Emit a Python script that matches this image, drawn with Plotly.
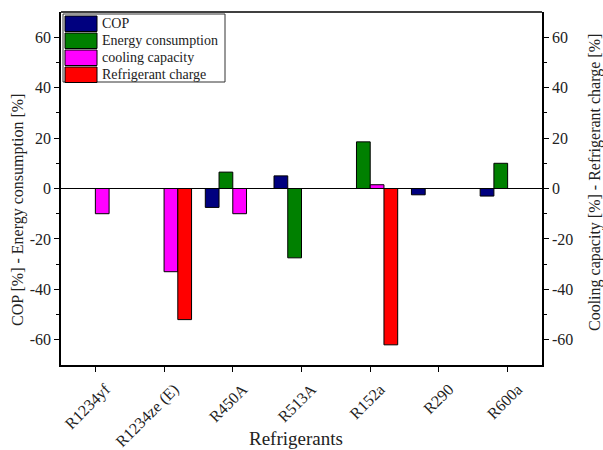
import plotly.graph_objects as go

refrigerants = ["R1234yf", "R1234ze (E)", "R450A", "R513A", "R152a", "R290", "R600a"]
series_names = ["COP", "Energy consumption", "cooling capacity", "Refrigerant charge"]
cop = [None, None, -7.5, 5.0, None, -2.5, -3.0]
energy_consumption = [None, None, 6.5, -27.5, 18.5, None, 10.0]
cooling_capacity = [-10.0, -33.0, -10.0, None, 1.5, None, None]
refrigerant_charge = [None, -52.0, None, None, -62.0, None, None]
colors = ["#00007F", "#008000", "#FF00FF", "#FF0000"]
tick_vals = [-60, -40, -20, 0, 20, 40, 60]
tick_text = [str(v) for v in tick_vals]

W, H = 603, 450
ML, MR, MT, MB = 61, 61, 12, 85
PW, PH = W - ML - MR, H - MT - MB
FONT = "Liberation Serif, Times New Roman, serif"
TXT = "#222"

def px_x(x):
    return (x - ML) / PW

def px_y(y):
    return 1 - (y - MT) / PH

fig = go.Figure()
for name, vals, col in zip(series_names,
                           [cop, energy_consumption, cooling_capacity, refrigerant_charge],
                           colors):
    fig.add_trace(go.Bar(x=refrigerants, y=vals, name=name, marker_color=col,
                         marker_line=dict(color="black", width=1), showlegend=False))

# invisible trace so the right-hand axis is drawn
fig.add_trace(go.Scatter(x=[refrigerants[0]], y=[0], yaxis="y2", mode="markers",
                         marker=dict(opacity=0), showlegend=False, hoverinfo="skip"))

axis_common = dict(range=[-70, 70], tickvals=tick_vals, ticktext=tick_text,
                   ticks="outside", ticklen=5, tickwidth=1, tickcolor="black",
                   showline=True, linecolor="black", linewidth=1.5, showgrid=False,
                   zeroline=False, automargin=False,
                   tickfont=dict(family=FONT, size=16, color=TXT),
                   minor=dict(tickvals=[-50, -30, -10, 10, 30, 50], ticks="outside",
                              ticklen=3, tickcolor="black"))

fig.update_layout(
    width=W, height=H,
    margin=dict(l=ML, r=MR, t=MT, b=MB),
    paper_bgcolor="white", plot_bgcolor="white",
    barmode="group", bargap=0.2, bargroupgap=0,
    font=dict(family=FONT, color=TXT),
    xaxis=dict(range=[-0.5, 6.5], tickangle=-45, ticks="outside", ticklen=5,
               tickcolor="black", showline=True, linecolor="black", linewidth=1.5,
               showgrid=False, automargin=False, ticklabelshift=10, ticklabelstandoff=2,
               tickfont=dict(family=FONT, size=16, color=TXT),
               minor=dict(ticks="outside", ticklen=4, tickcolor="black", dtick=1,
                          tick0=0.5)),
    yaxis=dict(**axis_common),
    yaxis2=dict(**axis_common, overlaying="y", side="right"),
)

# axis titles
fig.add_annotation(xref="paper", yref="paper", x=px_x(296), y=px_y(438),
                   xanchor="center", yanchor="middle",
                   text="Refrigerants", showarrow=False,
                   font=dict(family=FONT, size=19, color=TXT))
fig.add_annotation(xref="paper", yref="paper", x=px_x(18), y=px_y(210),
                   xanchor="center", yanchor="middle",
                   text="COP [%] - Energy consumption [%]", showarrow=False, textangle=-90,
                   font=dict(family=FONT, size=16, color=TXT))
fig.add_annotation(xref="paper", yref="paper", x=px_x(595), y=px_y(183),
                   xanchor="center", yanchor="middle",
                   text="Cooling capacity [%] - Refrigerant charge [%]", showarrow=False,
                   textangle=-90, font=dict(family=FONT, size=16, color=TXT))

# top frame line and zero line
fig.add_shape(type="line", xref="paper", yref="paper", x0=0, x1=1, y0=1, y1=1,
              line=dict(color="black", width=1.5))
fig.add_shape(type="line", xref="paper", yref="y", x0=0, x1=1, y0=0, y1=0,
              line=dict(color="black", width=1.2))

# legend box
lx0, lx1, ly0, ly1 = 63, 225, 14, 82
fig.add_shape(type="rect", xref="paper", yref="paper",
              x0=px_x(lx0), x1=px_x(lx1), y0=px_y(ly1), y1=px_y(ly0),
              line=dict(color="#333", width=1), fillcolor="white")
row_h = (ly1 - ly0) / 4
for i, (name, col) in enumerate(zip(series_names, colors)):
    top = ly0 + 2 + i * row_h
    fig.add_shape(type="rect", xref="paper", yref="paper",
                  x0=px_x(65), x1=px_x(97), y0=px_y(top + row_h - 1.5), y1=px_y(top),
                  line=dict(color="black", width=1), fillcolor=col)
    fig.add_annotation(xref="paper", yref="paper", x=px_x(100), y=px_y(top + row_h / 2 - 1),
                       text=name, showarrow=False, xanchor="left", yanchor="middle",
                       font=dict(family=FONT, size=14, color=TXT))

fig.write_html("out.html")
